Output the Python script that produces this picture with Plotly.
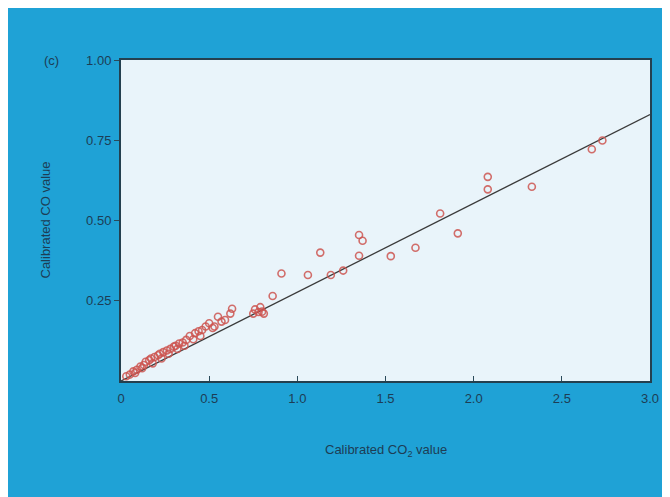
import plotly.graph_objects as go

# Calibrated CO2 (x) vs calibrated CO (y) values
co2_values = [0.03, 0.05, 0.07, 0.09, 0.11, 0.13, 0.14, 0.16, 0.17, 0.19, 0.21, 0.22,
              0.24, 0.26, 0.28, 0.30, 0.31, 0.33, 0.35, 0.37, 0.39, 0.42, 0.44, 0.46,
              0.48, 0.50, 0.53, 0.55, 0.59, 0.62, 0.63,
              0.08, 0.12, 0.18, 0.23, 0.27, 0.32, 0.36, 0.41, 0.45, 0.52, 0.57,
              0.75, 0.76, 0.78, 0.79, 0.80, 0.81, 0.86, 0.91, 1.06, 1.13, 1.19, 1.26,
              1.35, 1.37, 1.35, 1.53, 1.67, 1.81, 1.91, 2.08, 2.08, 2.33, 2.67, 2.73]
co_values = [0.015, 0.02, 0.03, 0.035, 0.045, 0.05, 0.06, 0.065, 0.07, 0.075, 0.08, 0.085,
             0.09, 0.095, 0.10, 0.107, 0.11, 0.117, 0.12, 0.128, 0.14, 0.149, 0.155, 0.159,
             0.17, 0.18, 0.17, 0.20, 0.19, 0.21, 0.225,
             0.025, 0.04, 0.055, 0.07, 0.085, 0.1, 0.11, 0.13, 0.14, 0.165, 0.185,
             0.21, 0.223, 0.215, 0.23, 0.216, 0.21, 0.265, 0.335, 0.33, 0.40, 0.33, 0.344,
             0.455, 0.437, 0.39, 0.389, 0.415, 0.522, 0.46, 0.636, 0.597, 0.605, 0.722, 0.749]

# Regression line end points
fit_x = [0.0, 3.0]
fit_y = [0.0, 0.83]

x_ticks = [0, 0.5, 1.0, 1.5, 2.0, 2.5, 3.0]
x_tick_labels = ["0", "0.5", "1.0", "1.5", "2.0", "2.5", "3.0"]
y_ticks = [0.25, 0.50, 0.75, 1.00]
y_tick_labels = ["0.25", "0.50", "0.75", "1.00"]

BLUE = "#1fa2d6"
INK = "#1d3d55"
FONT = "Liberation Sans"

fig = go.Figure()
fig.add_trace(go.Scatter(
    x=fit_x, y=fit_y, mode="lines",
    line=dict(color="#3a3a3a", width=1.3), showlegend=False, hoverinfo="skip"))
fig.add_trace(go.Scatter(
    x=co2_values, y=co_values, mode="markers",
    marker=dict(symbol="circle-open", size=7, color="rgba(205,85,80,0.85)",
                line=dict(width=1.6)),
    showlegend=False))

fig.update_layout(
    width=670, height=497,
    margin=dict(l=113, r=28, t=52, b=124),
    paper_bgcolor=BLUE,
    plot_bgcolor="#e9f4fa",
    font=dict(family=FONT, size=13, color=INK),
    xaxis=dict(range=[0, 3.0], tickvals=x_ticks, ticktext=x_tick_labels,
               ticks="inside", ticklen=5, tickcolor="#2a4a5a", ticklabelstandoff=4,
               showgrid=False, zeroline=False,
               showline=True, linecolor="#24404f", linewidth=2, mirror=True),
    yaxis=dict(range=[0, 1.0], tickvals=y_ticks, ticktext=y_tick_labels,
               ticks="outside", ticklen=5, tickcolor="#2a4a5a",
               showgrid=False, zeroline=False,
               showline=True, linecolor="#24404f", linewidth=2, mirror=True),
    annotations=[
        dict(text="Calibrated CO value", xref="paper", yref="paper",
             x=-76 / 529, y=0.5, xanchor="center", yanchor="middle",
             textangle=-90, showarrow=False, font=dict(size=13, color=INK)),
        dict(text="Calibrated CO<sub>2</sub> value", xref="paper", yref="paper",
             x=0.5, y=-69 / 321, xanchor="center", yanchor="middle",
             showarrow=False, font=dict(size=13, color=INK)),
        dict(text="(c)", xref="paper", yref="paper", x=-70 / 529, y=1.0,
             xanchor="center", yanchor="middle",
             showarrow=False, font=dict(size=13, color=INK)),
    ],
)

fig.write_html("out.html")
